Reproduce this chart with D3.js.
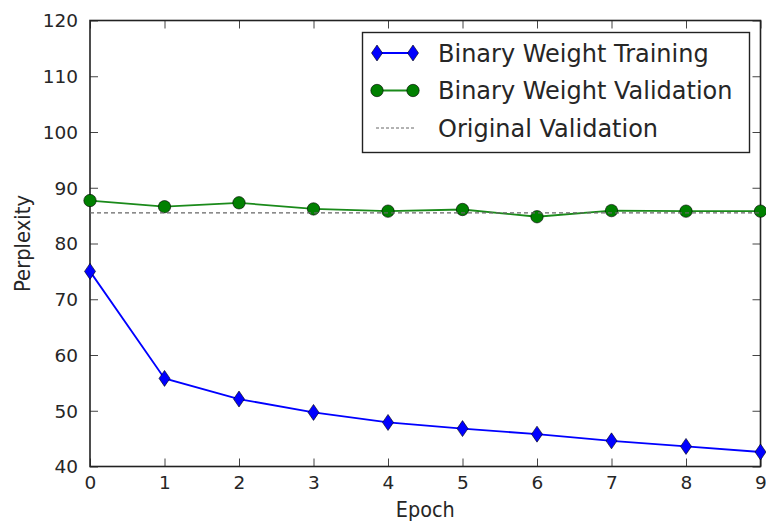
<!DOCTYPE html>
<html>
<head>
<meta charset="utf-8">
<script src="https://cdn.jsdelivr.net/npm/d3@7"></script>
<style>
  body { margin: 0; background: #fff; }
  text { font-family: "DejaVu Sans", sans-serif; fill: #262626; }
</style>
</head>
<body>
<script>
const width = 766;
const height = 523;
const margin = { top: 20.5, right: 5, bottom: 56.5, left: 90 };

// data
const epochs = [0, 1, 2, 3, 4, 5, 6, 7, 8, 9];
const trainPpl = [75.0, 55.8, 52.1, 49.7, 47.9, 46.8, 45.8, 44.6, 43.6, 42.6];
const validPpl = [87.7, 86.6, 87.3, 86.2, 85.8, 86.1, 84.8, 85.9, 85.8, 85.8];
const originalValid = 85.5;
const yTicks = [40, 50, 60, 70, 80, 90, 100, 110, 120];
const legendLabels = ["Binary Weight Training", "Binary Weight Validation", "Original Validation"];

const svg = d3.select("body").append("svg")
  .attr("width", width)
  .attr("height", height);

const x = d3.scaleLinear().domain([0, 9]).range([margin.left, width - margin.right - 0.5]);
const y = d3.scaleLinear().domain([40, 120]).range([height - margin.bottom, margin.top]);

// axes, ticks pointing inwards on all four sides
const tickLen = 8;
const bottomAxis = svg.append("g")
  .attr("transform", `translate(0,${y(40)})`)
  .call(d3.axisBottom(x).tickValues(epochs).tickFormat(d3.format("d"))
    .tickSizeInner(-tickLen).tickSizeOuter(0).tickPadding(9));
const leftAxis = svg.append("g")
  .attr("transform", `translate(${x(0)},0)`)
  .call(d3.axisLeft(y).tickValues(yTicks).tickFormat(d3.format("d"))
    .tickSizeInner(-tickLen).tickSizeOuter(0).tickPadding(12));
const topAxis = svg.append("g")
  .attr("transform", `translate(0,${y(120)})`)
  .call(d3.axisTop(x).tickValues(epochs).tickFormat("")
    .tickSizeInner(-tickLen).tickSizeOuter(0));
const rightAxis = svg.append("g")
  .attr("transform", `translate(${x(9)},0)`)
  .call(d3.axisRight(y).tickValues(yTicks).tickFormat("")
    .tickSizeInner(-tickLen).tickSizeOuter(0));

[bottomAxis, leftAxis, topAxis, rightAxis].forEach(g => {
  g.select(".domain").remove();
  g.selectAll(".tick line").attr("stroke", "#444").attr("stroke-width", 1);
  g.selectAll(".tick text").style("font-size", "18.5px").attr("fill", "#262626");
});
leftAxis.selectAll(".tick text").attr("dy", "0.35em");

// frame
svg.append("rect")
  .attr("x", x(0)).attr("y", y(120))
  .attr("width", x(9) - x(0)).attr("height", y(40) - y(120))
  .attr("fill", "none").attr("stroke", "#222").attr("stroke-width", 1.6);

// axis titles
svg.append("text")
  .attr("x", (x(0) + x(9)) / 2).attr("y", 517)
  .attr("text-anchor", "middle").style("font-size", "21px")
  .attr("textLength", 59).attr("lengthAdjust", "spacingAndGlyphs")
  .text("Epoch");
svg.append("text")
  .attr("transform", `translate(30,${(y(40) + y(120)) / 2}) rotate(-90)`)
  .attr("text-anchor", "middle").style("font-size", "21px")
  .attr("textLength", 97).attr("lengthAdjust", "spacingAndGlyphs")
  .text("Perplexity");

const line = d3.line().x((d, i) => x(epochs[i])).y(d => y(d));
const diamond = "M0,-8L5.5,0L0,8L-5.5,0Z";

const plot = svg.append("g");

// training
plot.append("path").datum(trainPpl)
  .attr("d", line).attr("fill", "none")
  .attr("stroke", "#0000ff").attr("stroke-width", 1.8);
plot.selectAll(".tr").data(trainPpl).enter().append("path")
  .attr("class", "tr")
  .attr("transform", (d, i) => `translate(${x(epochs[i])},${y(d)})`)
  .attr("d", diamond)
  .attr("fill", "#0000ff").attr("stroke", "#000").attr("stroke-width", 0.6);

// validation
plot.append("path").datum(validPpl)
  .attr("d", line).attr("fill", "none")
  .attr("stroke", "#1a8a1a").attr("stroke-width", 1.8);
plot.selectAll(".va").data(validPpl).enter().append("circle")
  .attr("class", "va")
  .attr("cx", (d, i) => x(epochs[i])).attr("cy", d => y(d))
  .attr("r", 6.2)
  .attr("fill", "#008000").attr("stroke", "#000").attr("stroke-width", 0.6);

// original validation
plot.append("line")
  .attr("x1", x(0)).attr("x2", x(9))
  .attr("y1", y(originalValid)).attr("y2", y(originalValid))
  .attr("stroke", "#666").attr("stroke-width", 1.4)
  .attr("stroke-dasharray", "4,3");

// legend
const legend = svg.append("g");
legend.append("rect")
  .attr("x", 362.5).attr("y", 32.5).attr("width", 387).attr("height", 120)
  .attr("fill", "#fff").attr("stroke", "#222").attr("stroke-width", 1.4);

const rows = [53, 90.5, 128];
legendLabels.forEach((label, i) => {
  const ly = rows[i];
  const g = legend.append("g");
  if (i === 0) {
    g.append("line").attr("x1", 377).attr("x2", 413).attr("y1", ly).attr("y2", ly)
      .attr("stroke", "#0000ff").attr("stroke-width", 1.8);
    [377, 413].forEach(px => g.append("path")
      .attr("transform", `translate(${px},${ly})`).attr("d", diamond)
      .attr("fill", "#0000ff").attr("stroke", "#000").attr("stroke-width", 0.6));
  } else if (i === 1) {
    g.append("line").attr("x1", 377).attr("x2", 413).attr("y1", ly).attr("y2", ly)
      .attr("stroke", "#1a8a1a").attr("stroke-width", 1.8);
    [377, 413].forEach(px => g.append("circle")
      .attr("cx", px).attr("cy", ly).attr("r", 6.2)
      .attr("fill", "#008000").attr("stroke", "#000").attr("stroke-width", 0.6));
  } else {
    g.append("line").attr("x1", 376).attr("x2", 414).attr("y1", ly).attr("y2", ly)
      .attr("stroke", "#666").attr("stroke-width", 1)
      .attr("stroke-dasharray", "3,2");
  }
  g.append("text").attr("x", 438).attr("y", ly).attr("dy", "0.36em")
    .style("font-size", "24px").text(label);
});
</script>
</body>
</html>
